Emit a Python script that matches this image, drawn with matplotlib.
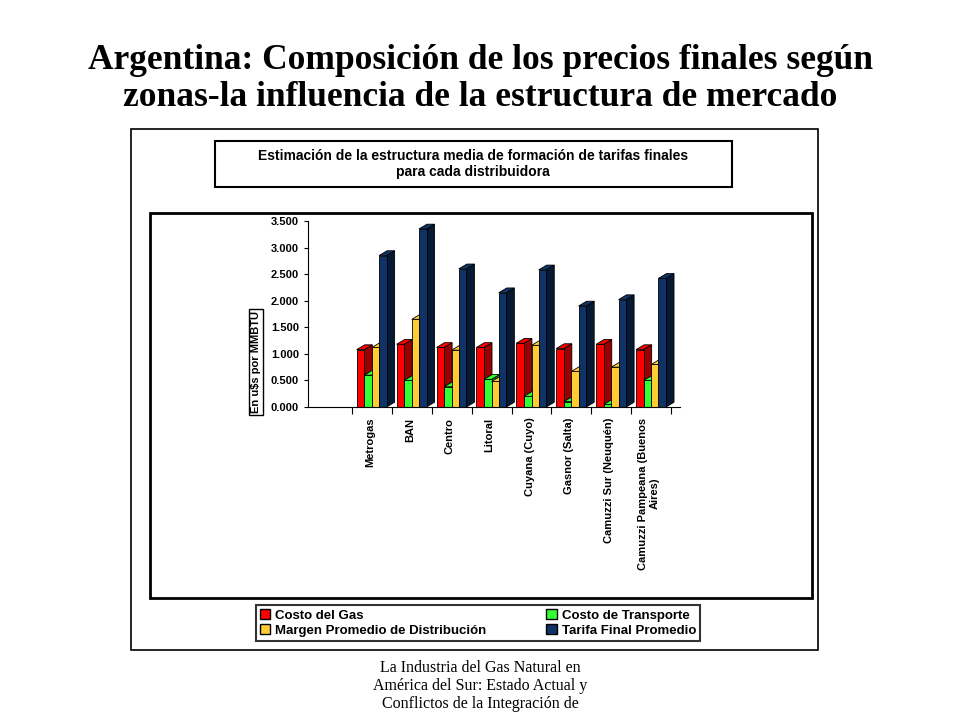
import matplotlib
matplotlib.use("Agg")
import matplotlib.pyplot as plt
from matplotlib.patches import Rectangle, Polygon
import matplotlib.ticker as mticker

# datos
zonas = ["Metrogas", "BAN", "Centro", "Litoral", "Cuyana (Cuyo)", "Gasnor (Salta)",
         "Camuzzi Sur (Neuquén)", "Camuzzi Pampeana (Buenos\nAires)"]
costo_gas = [1.08, 1.18, 1.12, 1.12, 1.20, 1.10, 1.18, 1.08]
costo_transporte = [0.60, 0.50, 0.38, 0.52, 0.20, 0.10, 0.05, 0.50]
margen_distribucion = [1.12, 1.65, 1.07, 0.48, 1.16, 0.67, 0.75, 0.80]
tarifa_final = [2.85, 3.35, 2.60, 2.15, 2.58, 1.90, 2.02, 2.42]

series = [
    ("Costo del Gas", costo_gas, "#ff0000", "#990000"),
    ("Costo de Transporte", costo_transporte, "#33ff33", "#229922"),
    ("Margen Promedio de Distribución", margen_distribucion, "#ffcc33", "#b38a1a"),
    ("Tarifa Final Promedio", tarifa_final, "#0f3366", "#061a33"),
]

W, H = 960, 720
fig = plt.figure(figsize=(9.6, 7.2), dpi=100)

def box(x0, y0, x1, y1, lw=1.5):
    fig.patches.append(Rectangle((x0 / W, 1 - y1 / H), (x1 - x0) / W, (y1 - y0) / H,
                                 transform=fig.transFigure, fill=False, ec="black", lw=lw))

fig.text(0.5, 1 - 79 / H, "Argentina: Composición de los precios finales según\nzonas-la influencia de la estructura de mercado",
         ha="center", va="center", fontsize=25.5, family="Liberation Serif", weight="bold", linespacing=1.15)
fig.text(0.5, 1 - 660 / H, "La Industria del Gas Natural en\nAmérica del Sur: Estado Actual y\nConflictos de la Integración de",
         ha="center", va="top", fontsize=11.5, family="Liberation Serif", linespacing=1.15)

box(131, 129, 818, 650, lw=1.2)
box(215, 141, 732, 187, lw=1.5)
fig.text(473 / W, 1 - 164 / H, "Estimación de la estructura media de formación de tarifas finales\npara cada distribuidora",
         ha="center", va="center", fontsize=10, family="Liberation Sans", weight="bold")
box(150, 213, 812, 598, lw=2)

ax = fig.add_axes([308 / W, 1 - 407 / H, (680 - 308) / W, (407 - 221) / H])
ax.set_xlim(-1.22, 8.1)
ax.set_ylim(0, 3.5)
bw, dx, dy = 0.19, 0.2, 0.09
offs = [0.0, 0.19, 0.38, 0.56]
for (name, vals, c, dc), o in zip(series, offs):
    for i, v in enumerate(vals):
        x0 = i + o
        ax.add_patch(Polygon([(x0 + bw, 0), (x0 + bw + dx, dy), (x0 + bw + dx, v + dy), (x0 + bw, v)],
                             fc=dc, ec="black", lw=0.6, clip_on=False))
        ax.add_patch(Polygon([(x0, v), (x0 + dx, v + dy), (x0 + bw + dx, v + dy), (x0 + bw, v)],
                             fc=c, ec="black", lw=0.6, clip_on=False))
        ax.add_patch(Rectangle((x0, 0), bw, v, fc=c, ec="black", lw=0.6, clip_on=False))
    ax.bar([0], [0], color=c, label=name)

ax.spines["top"].set_visible(False)
ax.spines["right"].set_visible(False)
ax.yaxis.set_major_locator(mticker.MultipleLocator(0.5))
ax.yaxis.set_major_formatter(mticker.FuncFormatter(lambda v, p: f"{v:.3f}"))
ax.set_xticks([i - 0.12 for i in range(len(zonas) + 1)])
ax.set_xticklabels([])
ax.tick_params(axis="x", length=5, direction="out")
ax.tick_params(axis="y", length=3, labelsize=8)
for t in ax.get_yticklabels():
    t.set_fontweight("bold")
    t.set_family("Liberation Sans")
for i, z in enumerate(zonas):
    ax.text(i + 0.33, -0.2, z, rotation=90, ha="center", va="top", fontsize=8,
            family="Liberation Sans", weight="bold", multialignment="center")

fig.text(256 / W, 1 - 362 / H, "En u$s por MMBTU", rotation=90, ha="center", va="center",
         fontsize=8, family="Liberation Sans", weight="bold",
         bbox=dict(fc="white", ec="black", lw=1, pad=1.5))

h, l = ax.get_legend_handles_labels()
order = [0, 2, 1, 3]
leg = fig.legend([h[k] for k in order], [l[k] for k in order], ncol=2, loc="center",
                 bbox_to_anchor=(478 / W, 1 - 623 / H), frameon=True, fancybox=False,
                 edgecolor="black", prop=dict(family="Liberation Sans", weight="bold", size=9.5),
                 handlelength=0.8, handleheight=0.8, columnspacing=4.5, labelspacing=0.2,
                 borderpad=0.3, handletextpad=0.4)
leg.get_frame().set_linewidth(1.5)
for p in leg.get_patches():
    p.set_edgecolor("black")

fig.savefig("out.png", dpi=100)
